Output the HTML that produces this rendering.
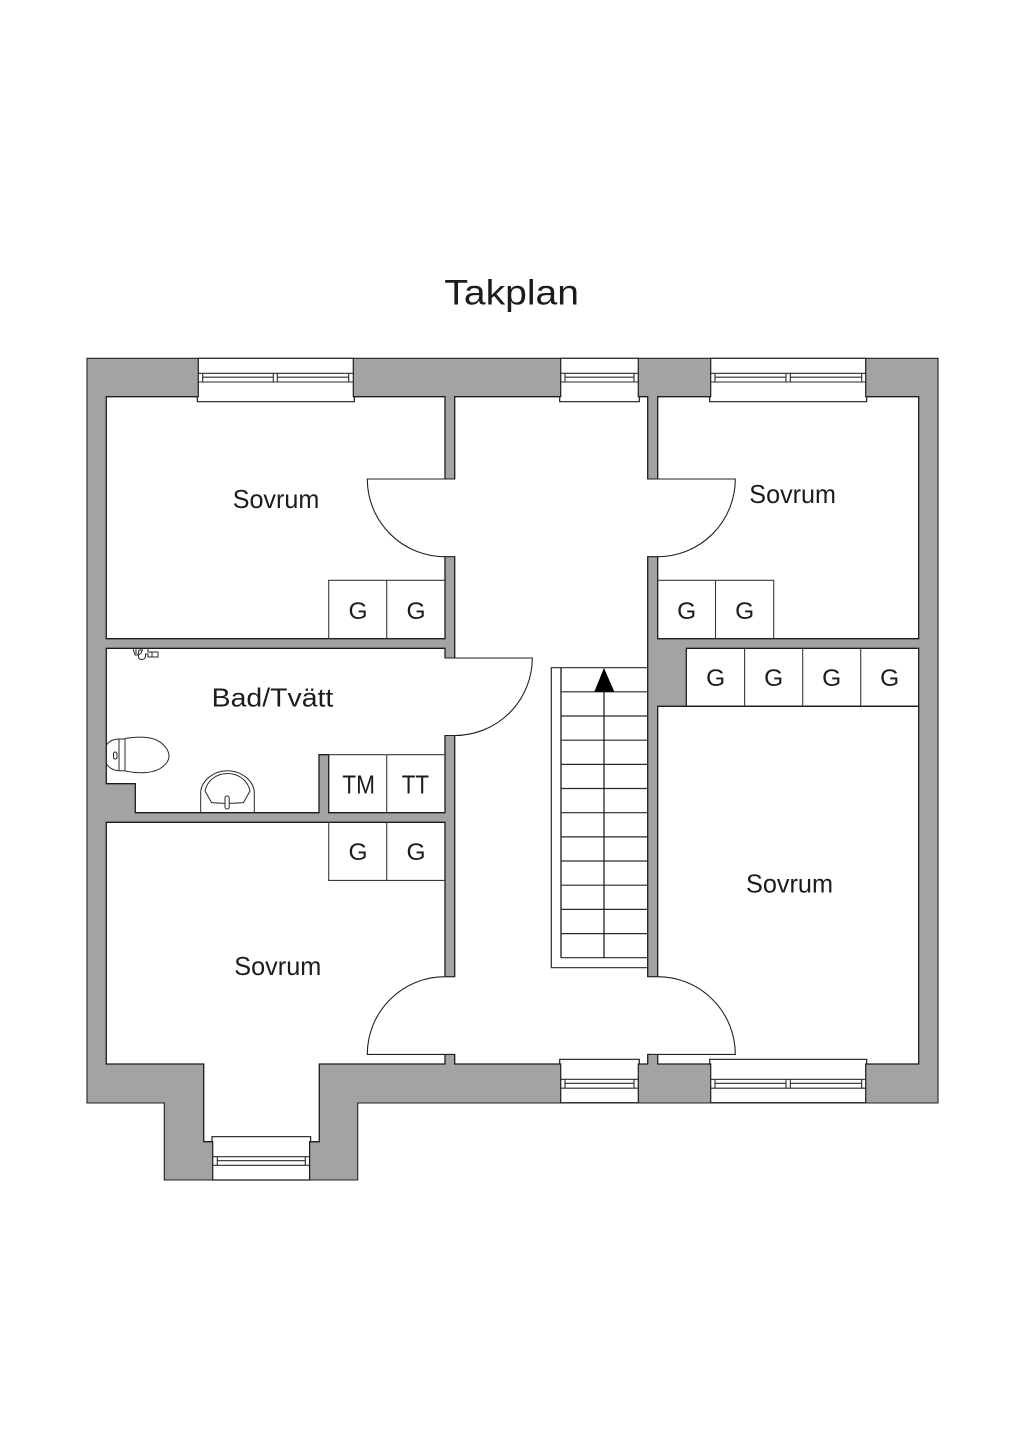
<!DOCTYPE html>
<html>
<head>
<meta charset="utf-8">
<title>Takplan</title>
<style>
html,body{margin:0;padding:0;background:#fff;}
svg{display:block;}
text{font-family:"Liberation Sans",sans-serif;fill:#1c1c1c;}
</style>
</head>
<body>
<svg xmlns="http://www.w3.org/2000/svg" width="1024" height="1448" viewBox="0 0 1024 1448">
<rect width="1024" height="1448" fill="#fff"/>
<!-- walls -->
<path d="M87 358.3H938V1103H357.7V1180H164.3V1103H87Z" fill="#a3a3a3" stroke="#222" stroke-width="1.1"/>
<!-- rooms -->
<g fill="#fff" stroke="#1c1c1c" stroke-width="1.3">
<path d="M106.3 396.7H445V638.7H106.3Z"/>
<path d="M106.3 648.3H445V812.7H328.7V754.7H319V812.7H135.3V783.7H106.3Z"/>
<path d="M106.3 822.3H445V1064H319.3V1141.7H203.7V1064H106.3Z"/>
<path d="M454.7 396.7H647.7V1064H454.7Z"/>
<path d="M657.7 396.7H918.7V638.7H657.7Z"/>
<path d="M686.3 648.3H918.7V706.3H686.3Z"/>
<path d="M657.7 706.3H918.7V1064H657.7Z"/>
</g>
<!-- door openings -->
<g fill="#fff">
<rect x="444" y="479.5" width="12" height="76.7"/>
<rect x="646.5" y="479.5" width="12" height="76.7"/>
<rect x="444" y="658.5" width="12" height="76.5"/>
<rect x="444" y="977.2" width="12" height="76.7"/>
<rect x="646.5" y="977.2" width="12" height="76.7"/>
</g>
<!-- door leaves -->
<g fill="none" stroke="#222" stroke-width="1.1">
<path d="M454.7 479H367.3A77.7 77.7 0 0 0 445 556.7H454.7"/>
<path d="M647.7 479H735.3A77.6 77.7 0 0 1 657.7 556.7H647.7"/>
<path d="M445 658H532.3A77.6 77.5 0 0 1 454.7 735.5H445"/>
<path d="M454.7 976.7H445A77.7 77.7 0 0 0 367.3 1054.4H454.7"/>
<path d="M647.7 976.7H657.7A77.6 77.7 0 0 1 735.3 1054.4H647.7"/>
</g>
<!-- closets -->
<g fill="none" stroke="#3a3a3a" stroke-width="1.1">
<path d="M328.7 638.7V580.3H445M386.7 580.3V638.7"/>
<path d="M773.7 638.7V580.3H657.7M715.5 580.3V638.7"/>
<path d="M744.6 648.3V706.3M802.7 648.3V706.3M860.7 648.3V706.3"/>
<path d="M386.7 754.7H445M386.7 754.7V812.7"/>
<path d="M328.7 754.7H386.7"/>
<path d="M328.7 822.3V880.4H445M386.7 822.3V880.4"/>
</g>
<!-- windows -->
<g fill="#fff" stroke="#1c1c1c" stroke-width="1.2">
<path d="M198.3 358.3H353.3V396.7H354.3V401.7H197.3V396.7H198.3Z"/>
<path d="M560.7 358.3H638.3V396.7H639.3V401.7H559.7V396.7H560.7Z"/>
<path d="M710.7 358.3H865.7V396.7H866.7V401.7H709.7V396.7H710.7Z"/>
<path d="M560.7 1102.7V1064H559.7V1059.3H639.3V1064H638.3V1102.7Z"/>
<path d="M710.7 1102.7V1064H709.7V1059.3H866.7V1064H865.7V1102.7Z"/>
<path d="M212.7 1180V1141.7H212V1136.7H310.6V1141.7H309.6V1180Z"/>
</g>
<g fill="none" stroke="#2a2a2a" stroke-width="1.1">
<path d="M198.3 373.3H353.3M198.3 382H353.3M202.7 377.2H273.3M277.3 377.2H348.7M202.7 373.3V382M273.3 373.3V382M277.3 373.3V382M348.7 373.3V382"/>
<path d="M560.7 373.3H638.3M560.7 382H638.3M565 377.2H634M565 373.3V382M634 373.3V382"/>
<path d="M710.7 373.3H865.7M710.7 382H865.7M715 377.2H786M790.3 377.2H861.7M715 373.3V382M786 373.3V382M790.3 373.3V382M861.7 373.3V382"/>
<path d="M560.7 1079.3H638.3M560.7 1088.2H638.3M565 1083.3H634M565 1079.3V1088.2M634 1079.3V1088.2"/>
<path d="M710.7 1079.3H865.7M710.7 1088.2H865.7M715 1083.3H786M790.3 1083.3H861.7M715 1079.3V1088.2M786 1079.3V1088.2M790.3 1079.3V1088.2M861.7 1079.3V1088.2"/>
<path d="M212.7 1156.7H309.6M212.7 1165.3H309.6M217.3 1160.7H305.3M217.3 1156.7V1165.3M305.3 1156.7V1165.3"/>
</g>
<!-- stairs -->
<g fill="none" stroke="#2a2a2a" stroke-width="1.2">
<path d="M647.7 667.7H551.3V967.7H647.7"/>
<path d="M561 667.7V957.7" stroke-width="1.4"/>
<path d="M561 691.8H647.7M561 716H647.7M561 740.2H647.7M561 764.4H647.7M561 788.5H647.7M561 812.7H647.7M561 836.9H647.7M561 861H647.7M561 885.2H647.7M561 909.4H647.7M561 933.6H647.7M561 957.7H647.7"/>
<path d="M604 691.8V957.7" stroke="#111"/>
</g>
<path d="M604 668L614.3 691.8H594.3Z" fill="#000"/>
<!-- toilet -->
<g fill="none" stroke="#2a2a2a" stroke-width="1">
<path d="M125 738.5C140 736 155 736.5 163 744.5C171 752 171 760 163 766.5C155 773.5 140 774 125 771"/>
<path d="M106.5 745C109 741 114 739 119 739H125V770.7H119C114 770.7 109 768 106.5 764"/>
<path d="M119 739V770.7"/>
<rect x="113.5" y="752" width="3.5" height="7" rx="1.7"/>
<!-- basin -->
<path d="M200.7 812.7V791.7C202 780 214 770.7 227.5 770.7C241 770.7 253 780 254.3 791.7V812.7"/>
<path d="M205 791C207 781 216 773.5 227.5 773.5C239 773.5 248 781 250 791L243.5 802.5C236 803.5 219 803.5 211.5 802.5Z"/>
<rect x="225" y="796" width="4.2" height="13" rx="2" fill="#fff"/>
<!-- mixer -->
<path d="M133 648.5L135 655H138L139 650H142.5L141 653C137.5 655 137.5 659 141.5 659.5C145 659.5 146 657 145.5 654H148V657H158V652H148V648.5"/>
<path d="M136 648.5V654M152 652V657"/>
</g>
<!-- labels -->
<text x="444.3" y="304.5" font-size="35.5" textLength="134.7" lengthAdjust="spacingAndGlyphs">Takplan</text>
<g font-size="26">
<text x="232.7" y="508" textLength="86.6" lengthAdjust="spacingAndGlyphs">Sovrum</text>
<text x="749.3" y="503" textLength="86.7" lengthAdjust="spacingAndGlyphs">Sovrum</text>
<text x="746" y="892.5" textLength="87" lengthAdjust="spacingAndGlyphs">Sovrum</text>
<text x="234.3" y="975" textLength="87" lengthAdjust="spacingAndGlyphs">Sovrum</text>
<text x="211.7" y="706.7" textLength="121.6" lengthAdjust="spacingAndGlyphs">Bad/Tvätt</text>
<text x="342.3" y="793.3" textLength="32.7" lengthAdjust="spacingAndGlyphs">TM</text>
<text x="401.7" y="793.3" textLength="27.3" lengthAdjust="spacingAndGlyphs">TT</text>
</g>
<g font-size="24.5" text-anchor="middle">
<text x="358" y="619">G</text>
<text x="416" y="619">G</text>
<text x="686.7" y="619">G</text>
<text x="744.7" y="619">G</text>
<text x="715.7" y="686">G</text>
<text x="773.7" y="686">G</text>
<text x="831.7" y="686">G</text>
<text x="889.7" y="686">G</text>
<text x="358" y="860">G</text>
<text x="416" y="860">G</text>
</g>
</svg>
</body>
</html>
